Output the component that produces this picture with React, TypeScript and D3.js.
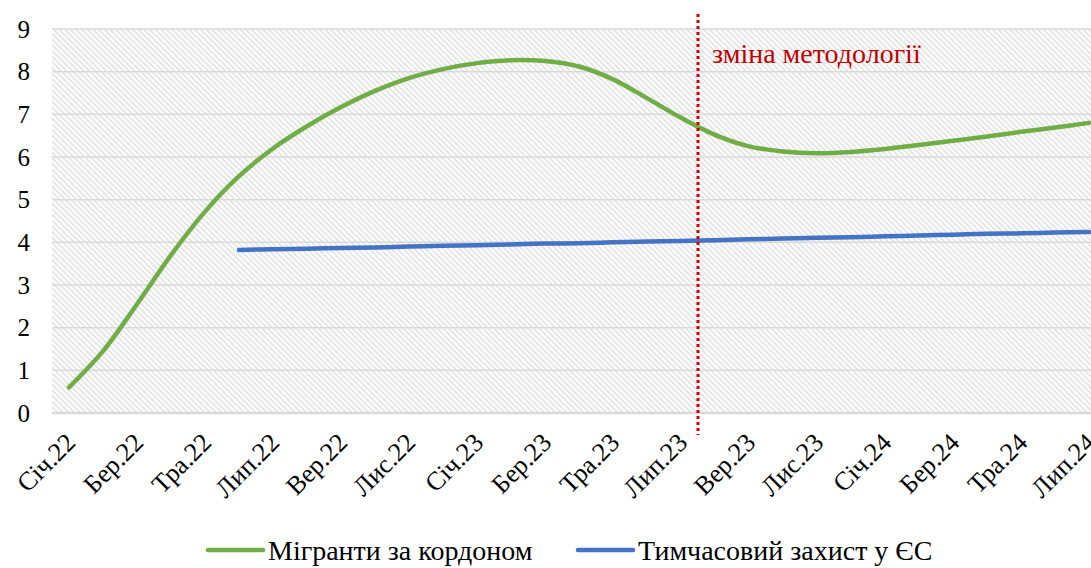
import React from "react";
import { scaleLinear, scalePoint, line, curveCatmullRom } from "d3";

const months = [
  "Січ.22", "Лют.22", "Бер.22", "Кві.22", "Тра.22", "Чер.22", "Лип.22", "Сер.22",
  "Вер.22", "Жов.22", "Лис.22", "Гру.22", "Січ.23", "Лют.23", "Бер.23", "Кві.23",
  "Тра.23", "Чер.23", "Лип.23", "Сер.23", "Вер.23", "Жов.23", "Лис.23", "Гру.23",
  "Січ.24", "Лют.24", "Бер.24", "Кві.24", "Тра.24", "Чер.24", "Лип.24",
];

// мігранти за кордоном, млн
const migrants = [
  0.6, 1.45, 2.55, 3.7, 4.72, 5.55, 6.2, 6.72, 7.17, 7.55, 7.85, 8.06, 8.2, 8.27,
  8.25, 8.12, 7.82, 7.38, 6.92, 6.52, 6.25, 6.13, 6.09, 6.12, 6.19, 6.28, 6.38, 6.48,
  6.59, 6.69, 6.8,
];

// тимчасовий захист у ЄС, млн (з червня 2022)
const protection = [
  null, null, null, null, null, 3.82, 3.84, 3.85, 3.87, 3.88, 3.9, 3.92, 3.93, 3.95,
  3.97, 3.98, 4.0, 4.02, 4.03, 4.05, 4.07, 4.09, 4.11, 4.12, 4.14, 4.16, 4.18, 4.2,
  4.21, 4.23, 4.24,
];

const yTicks = [0, 1, 2, 3, 4, 5, 6, 7, 8, 9];
const breakMonth = "Лип.23";
const seriesNames = ["Мігранти за кордоном", "Тимчасовий захист у ЄС"];
const colors = ["#70ad47", "#4472c4"];

const W = 1091;
const H = 568;
const font = "'Liberation Serif', 'Times New Roman', serif";

export default function App() {
  const x = scalePoint<string>().domain(months).range([69, 1089]);
  const step = x.step();
  const y = scaleLinear().domain([0, 9]).range([413, 29]);
  const left = (x(months[0]) as number) - step / 2;
  const right = (x(months[months.length - 1]) as number) + step / 2;

  const mkLine = line<number | null>()
    .defined((d) => d != null)
    .x((_, i) => x(months[i]) as number)
    .y((d) => y(d as number))
    .curve(curveCatmullRom.alpha(0.5));

  const breakX = (x(breakMonth) as number) + step / 2;

  return (
    <svg
      width={W}
      height={H}
      style={{ position: "absolute", left: 0, top: 0, background: "#fff" }}
    >
      <defs>
        <pattern
          id="hatch"
          patternUnits="userSpaceOnUse"
          width={4}
          height={4}
          patternTransform="rotate(-45)"
        >
          <rect width={4} height={4} fill="#fff" />
          <line x1={1} y1={0} x2={1} y2={4} stroke="#dedede" strokeWidth={1.5} />
        </pattern>
      </defs>

      <rect
        x={left}
        y={y(9)}
        width={right - left}
        height={y(0) - y(9)}
        fill="url(#hatch)"
      />

      {yTicks.map((t) => (
        <g key={t}>
          <line
            x1={left}
            x2={right}
            y1={y(t)}
            y2={y(t)}
            stroke="#d9d9d9"
            strokeWidth={t === 0 ? 2.5 : 1.5}
          />
          <text
            x={30}
            y={y(t)}
            dy="0.35em"
            textAnchor="end"
            fontFamily={font}
            fontSize={25}
            fill="#000"
          >
            {t}
          </text>
        </g>
      ))}

      {months.map((m, i) =>
        i % 2 === 0 ? (
          <text
            key={m}
            transform={`translate(${(x(m) as number) + 8},${444}) rotate(-45)`}
            textAnchor="end"
            fontFamily={font}
            fontSize={26}
            fill="#000"
          >
            {m}
          </text>
        ) : null
      )}

      <path
        d={mkLine(protection) || ""}
        fill="none"
        stroke={colors[1]}
        strokeWidth={4.5}
        strokeLinecap="round"
      />
      <path
        d={mkLine(migrants) || ""}
        fill="none"
        stroke={colors[0]}
        strokeWidth={4.5}
        strokeLinecap="round"
      />

      <line
        x1={breakX}
        x2={breakX}
        y1={14}
        y2={435}
        stroke="#d00000"
        strokeWidth={3}
        strokeDasharray="3,3"
      />
      <text
        x={breakX + 14}
        y={63}
        fontFamily={font}
        fontSize={28}
        fill="#c00000"
      >
        зміна методології
      </text>

      {seriesNames.map((s, i) => {
        const lx = i === 0 ? 208 : 578;
        return (
          <g key={s}>
            <line
              x1={lx}
              x2={lx + 55}
              y1={550}
              y2={550}
              stroke={colors[i]}
              strokeWidth={4.5}
              strokeLinecap="round"
            />
            <text
              x={lx + 60}
              y={551}
              dy="0.33em"
              fontFamily={font}
              fontSize={28}
              fill="#000"
            >
              {s}
            </text>
          </g>
        );
      })}
    </svg>
  );
}
